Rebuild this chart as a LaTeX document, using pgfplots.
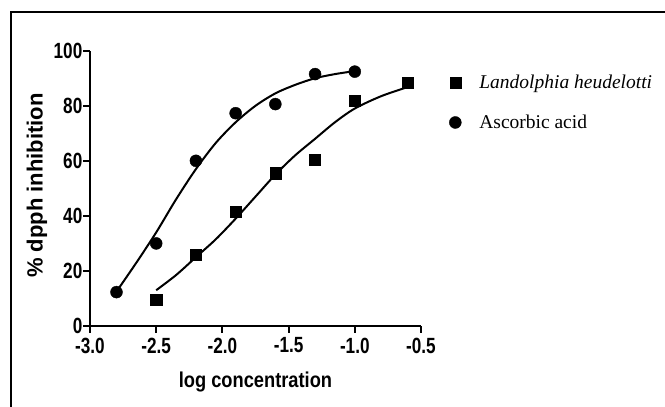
\documentclass[border=0pt]{standalone}
\usepackage{fontspec}
\setmainfont{Liberation Serif}
\newfontfamily\arialn[FakeStretch=0.78]{Liberation Sans}
\newfontfamily\arialm[FakeStretch=0.85]{Liberation Sans}
\newfontfamily\arial{Liberation Sans}
\usepackage{pgfplots}
\pgfplotsset{compat=1.18}
\begin{document}
\begin{tikzpicture}[x=1pt,y=1pt]
\useasboundingbox (0pt,0pt) rectangle (665pt,-407pt);
\draw[line width=2pt] (11pt,-407pt) -- (11pt,-12pt) -- (665pt,-12pt);
\begin{axis}[
  at={(90pt,-326pt)}, anchor=south west,
  scale only axis, width=331pt, height=275.3pt,
  xmin=-3.0, xmax=-0.5, ymin=0, ymax=100,
  axis x line*=bottom, axis y line*=left,
  axis line style={line width=2pt,-},
  xtick={-3.0,-2.5,-2.0,-1.5,-1.0,-0.5},
  ytick={0,20,40,60,80,100},
  xticklabel style={/pgf/number format/fixed,/pgf/number format/fixed zerofill,/pgf/number format/precision=1},
  /pgf/number format/assume math mode=true,
  tick align=outside, major tick length=6.5pt,
  tick style={line width=2pt,black},
  ticklabel style={font=\fontsize{22}{24}\selectfont\arialn\bfseries},
  yticklabel style={inner sep=1pt},
  xticklabel style={inner sep=5pt},
  xlabel={log concentration},
  ylabel={\% dpph inhibition},
  xlabel style={font=\fontsize{21.5}{22}\selectfont\arialm\bfseries, at={(axis description cs:0.5,-0.205)},anchor=center},
  ylabel style={font=\fontsize{22}{24}\selectfont\arial\bfseries, at={(axis description cs:-0.16,0.51)},anchor=center},
  clip=false,
  legend style={draw=none, fill=none, at={(axis description cs:1.085,0.92)}, anchor=north west,
    font=\fontsize{19.5}{21}\selectfont, row sep=21pt, column sep=16pt, inner sep=0pt},
  legend cell align=left,
]
\addplot[only marks, mark=square*, mark size=5.6pt, black] coordinates {
(-2.5,9.5) (-2.2,26.0) (-1.9,41.5) (-1.6,55.5) (-1.3,60.5) (-1.0,81.8) (-0.6,88.4)};
\addlegendentry{\textit{Landolphia heudelotti}}
\addplot[only marks, mark=*, mark size=6pt, black] coordinates {
(-2.8,12.3) (-2.5,30.0) (-2.2,60.0) (-1.9,77.3) (-1.6,80.6) (-1.3,91.5) (-1.0,92.4)};
\addlegendentry{Ascorbic acid}
\addplot[smooth, line width=2pt, black, forget plot] coordinates {
(-2.5,13) (-2.35,18.5) (-2.2,25) (-2.05,31.5) (-1.9,39) (-1.75,47) (-1.6,55) (-1.45,62) (-1.3,68) (-1.15,74) (-1.0,79) (-0.8,83.5) (-0.6,86.8)};
\addplot[smooth, line width=2pt, black, forget plot] coordinates {
(-2.8,12.5) (-2.65,23) (-2.5,34) (-2.35,46) (-2.2,57) (-2.05,66.5) (-1.9,74) (-1.75,80) (-1.6,84.5) (-1.45,87.6) (-1.3,90) (-1.15,91.5) (-1.0,92.6)};
\end{axis}
\end{tikzpicture}
\end{document}
